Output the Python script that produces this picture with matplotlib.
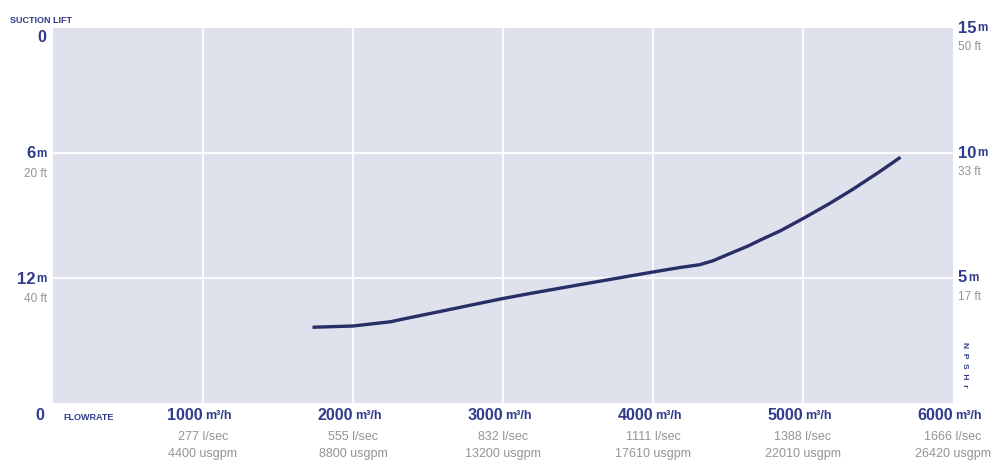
import matplotlib
matplotlib.use("Agg")
import matplotlib.pyplot as plt
import matplotlib.transforms as mtrans

plt.rcParams['font.family'] = ['Liberation Sans', 'DejaVu Sans']

# ---- data (NPSHr curve, right axis) ----
flow = [1730, 2000, 2250, 2360, 2580, 2830, 3000, 3180, 3500, 4000, 4180, 4310,
        4400, 4510, 4630, 4730, 4850, 5010, 5180, 5330, 5510, 5650]
npsh = [3.03, 3.08, 3.25, 3.39, 3.66, 3.97, 4.18, 4.38, 4.72, 5.24, 5.42, 5.53,
        5.69, 5.97, 6.27, 6.56, 6.89, 7.41, 7.99, 8.54, 9.25, 9.83]

flow_ticks = [1000, 2000, 3000, 4000, 5000, 6000]
lsec_labels = ["277 l/sec", "555 l/sec", "832 l/sec", "1111 l/sec", "1388 l/sec", "1666 l/sec"]
usgpm_labels = ["4400 usgpm", "8800 usgpm", "13200 usgpm", "17610 usgpm", "22010 usgpm", "26420 usgpm"]

lift_ticks = [6, 12]
lift_m = ["6", "12"]
lift_ft = ["20 ft", "40 ft"]

npsh_ticks = [15, 10, 5]
npsh_m = ["15", "10", "5"]
npsh_ft = ["50 ft", "33 ft", "17 ft"]

NAVY = "#2f3b8c"
LINE = "#272f66"
GREY = "#949494"
BG = "#dfe1ed"

fig = plt.figure(figsize=(10.02, 4.72), dpi=100)
ax = fig.add_axes([53 / 1002, 69 / 472, 900 / 1002, 375 / 472])
ax.set_facecolor(BG)
ax.set_xlim(0, 6000)
ax.set_ylim(18, 0)
for s in ax.spines.values():
    s.set_visible(False)
ax.set_xticks([])
ax.set_yticks([])
for xv in flow_ticks[:-1]:
    ax.axvline(xv, color="white", lw=1.5, alpha=0.9, zorder=1)
for yv in lift_ticks:
    ax.axhline(yv, color="white", lw=1.5, alpha=0.9, zorder=1)

ax2 = ax.twinx()
ax2.set_ylim(0, 15)
ax2.set_yticks([])
for s in ax2.spines.values():
    s.set_visible(False)
ax2.plot(flow, npsh, color=LINE, lw=2.4, solid_capstyle="butt",
         solid_joinstyle="round", zorder=3)

# blended transforms
x_data_y_axes = mtrans.blended_transform_factory(ax.transData, ax.transAxes)
x_axes_y_data = mtrans.blended_transform_factory(ax.transAxes, ax.transData)
x_axes_y_data2 = mtrans.blended_transform_factory(ax2.transAxes, ax2.transData)

def put(text, xy, trans, dx=0, dy=0, **kw):
    ax.annotate(text, xy=xy, xycoords=trans, xytext=(dx, dy),
                textcoords="offset pixels", annotation_clip=False, **kw)

# bottom flowrate labels
for fv, l1, l2 in zip(flow_ticks, lsec_labels, usgpm_labels):
    put(str(fv), (fv, 0), x_data_y_axes, dx=0, dy=-13, ha="right", va="center",
        fontsize=11.5, fontweight="bold", color=NAVY)
    put("m³/h", (fv, 0), x_data_y_axes, dx=2, dy=-13, ha="left", va="center",
        fontsize=9, fontweight="bold", color=NAVY)
    put(l1, (fv, 0), x_data_y_axes, dx=0, dy=-34, ha="center", va="center",
        fontsize=9, color=GREY)
    put(l2, (fv, 0), x_data_y_axes, dx=0, dy=-51, ha="center", va="center",
        fontsize=9, color=GREY)

put("0", (0, 0), x_data_y_axes, dx=-9, dy=-13, ha="right", va="center",
    fontsize=11.5, fontweight="bold", color=NAVY)
put("FLOWRATE", (0, 0), x_data_y_axes, dx=10, dy=-15, ha="left", va="center",
    fontsize=6.5, fontweight="bold", color=NAVY)

# left suction lift labels
put("SUCTION LIFT", (0, 1), ax.transAxes, dx=-43, dy=8, ha="left", va="center",
    fontsize=6.5, fontweight="bold", color=NAVY)
put("0", (0, 0), x_axes_y_data, dx=-7, dy=-9, ha="right", va="center",
    fontsize=11.5, fontweight="bold", color=NAVY)
for yv, m, ft in zip(lift_ticks, lift_m, lift_ft):
    put("m", (0, yv), x_axes_y_data, dx=-6, dy=-1, ha="right", va="center",
        fontsize=8.5, fontweight="bold", color=NAVY)
    put(m, (0, yv), x_axes_y_data, dx=-17, dy=-1, ha="right", va="center",
        fontsize=12, fontweight="bold", color=NAVY)
    put(ft, (0, yv), x_axes_y_data, dx=-6, dy=-21, ha="right", va="center",
        fontsize=8.5, color=GREY)

# right NPSH labels
for yv, m, ft in zip(npsh_ticks, npsh_m, npsh_ft):
    put(m, (1, yv), x_axes_y_data2, dx=5, dy=0, ha="left", va="center",
        fontsize=12, fontweight="bold", color=NAVY)
    put("m", (1, yv), x_axes_y_data2, dx=5 + 8.7 * len(m) + 2, dy=0, ha="left",
        va="center", fontsize=8.5, fontweight="bold", color=NAVY)
    put(ft, (1, yv), x_axes_y_data2, dx=5, dy=-19, ha="left", va="center",
        fontsize=8.5, color=GREY)

put("N  P  S  H  r", (1, 0), ax.transAxes, dx=12, dy=38, ha="center", va="center",
    rotation=-90, fontsize=6, fontweight="bold", color=NAVY)

fig.savefig("out.png", dpi=100)
